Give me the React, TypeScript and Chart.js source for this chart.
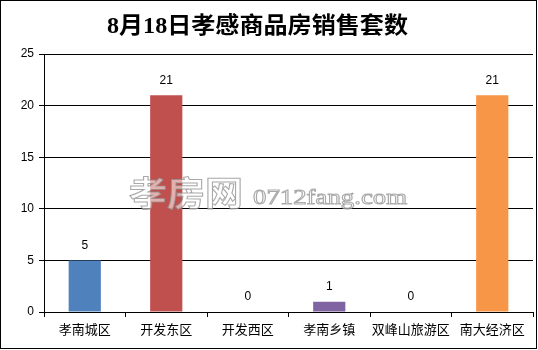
import React, { useEffect, useRef } from "react";
import { Chart, registerables } from "chart.js";

Chart.register(...registerables);

const categories = ["孝南城区", "开发东区", "开发西区", "孝南乡镇", "双峰山旅游区", "南大经济区"];
const salesValues = [5, 21, 0, 1, 0, 21];
const barColors = ["#4F81BD", "#C0504D", "#9BBB59", "#8064A2", "#4BACC6", "#F79646"];
const yTicks = [0, 5, 10, 15, 20, 25];
const titleText = "8月18日孝感商品房销售套数";
const watermarkCn = "孝房网";
const watermarkEn = "0712fang.com";

function fitText(ctx: CanvasRenderingContext2D, text: string, x: number, y: number, w: number, mode: "fill" | "both") {
  const m = ctx.measureText(text).width;
  ctx.save();
  ctx.translate(x, y);
  ctx.scale(w / m, 1);
  if (mode === "both") {
    ctx.fillText(text, 0, 0);
    ctx.strokeText(text, 0, 0);
  } else {
    ctx.fillText(text, 0, 0);
  }
  ctx.restore();
}

const decorPlugin = {
  id: "decor",
  afterDatasetsDraw(chart: any) {
    const ctx = chart.ctx as CanvasRenderingContext2D;
    const meta = chart.getDatasetMeta(0);
    ctx.save();
    ctx.fillStyle = "#000";
    ctx.font = '12px "Liberation Sans", "Noto Sans CJK SC", sans-serif';
    ctx.textAlign = "center";
    ctx.textBaseline = "middle";
    meta.data.forEach((bar: any, i: number) => {
      ctx.fillText(String(salesValues[i]), bar.x, bar.y - 15);
    });
    ctx.restore();
  },
  afterDraw(chart: any) {
    const ctx = chart.ctx as CanvasRenderingContext2D;
    ctx.save();
    // border
    ctx.strokeStyle = "#000";
    ctx.lineWidth = 1;
    ctx.strokeRect(0.5, 0.5, 536, 348);
    // title
    ctx.fillStyle = "#000";
    ctx.font = 'bold 23px "Liberation Serif", "Noto Sans CJK SC", serif';
    ctx.textAlign = "left";
    ctx.textBaseline = "alphabetic";
    fitText(ctx, titleText, 107, 33, 301, "fill");
    // watermark
    ctx.fillStyle = "rgba(255,255,255,0.55)";
    ctx.strokeStyle = "rgba(140,140,140,0.75)";
    ctx.lineWidth = 1;
    ctx.font = 'bold 34px "Noto Sans CJK SC", sans-serif';
    fitText(ctx, watermarkCn, 129, 206, 114, "both");
    ctx.font = '22px "Liberation Serif", serif';
    fitText(ctx, watermarkEn, 253, 204, 154, "both");
    ctx.restore();
  },
};

export default function App() {
  const ref = useRef<HTMLCanvasElement | null>(null);
  useEffect(() => {
    if (!ref.current) return;
    const chart = new Chart(ref.current, {
      type: "bar",
      data: {
        labels: categories,
        datasets: [
          {
            data: salesValues,
            backgroundColor: barColors,
            borderWidth: 0,
            barPercentage: 0.395,
            categoryPercentage: 1,
          },
        ],
      },
      options: {
        responsive: false,
        animation: false,
        layout: { padding: { top: 54, right: 5, left: 0, bottom: 0 } },
        plugins: { legend: { display: false }, title: { display: false }, tooltip: { enabled: false } },
        scales: {
          x: {
            offset: true,
            grid: { display: true, drawOnChartArea: false, drawTicks: true, tickLength: 5, color: "#000", offset: true },
            border: { display: true, color: "#000", width: 1 },
            ticks: {
              color: "#000",
              padding: 4,
              maxRotation: 0,
              autoSkip: false,
              font: { family: '"Noto Sans CJK SC", sans-serif', size: 13 },
            },
            afterFit(scale: any) {
              scale.height = 38;
            },
          },
          y: {
            min: 0,
            max: 25,
            afterBuildTicks(scale: any) {
              scale.ticks = yTicks.map((v) => ({ value: v }));
            },
            grid: { color: "#000", tickLength: 5, drawTicks: true },
            border: { display: true, color: "#000", width: 1 },
            ticks: {
              color: "#000",
              padding: 5,
              font: { family: '"Liberation Sans", sans-serif', size: 12 },
            },
            afterFit(scale: any) {
              scale.width = 44;
            },
          },
        },
      },
      plugins: [decorPlugin],
    } as any);
    return () => chart.destroy();
  }, []);
  return (
    <div style={{ position: "fixed", left: 0, top: 0, width: 538, height: 350, background: "#fff" }}>
      <canvas ref={ref} width={538} height={350} style={{ display: "block" }} />
    </div>
  );
}
